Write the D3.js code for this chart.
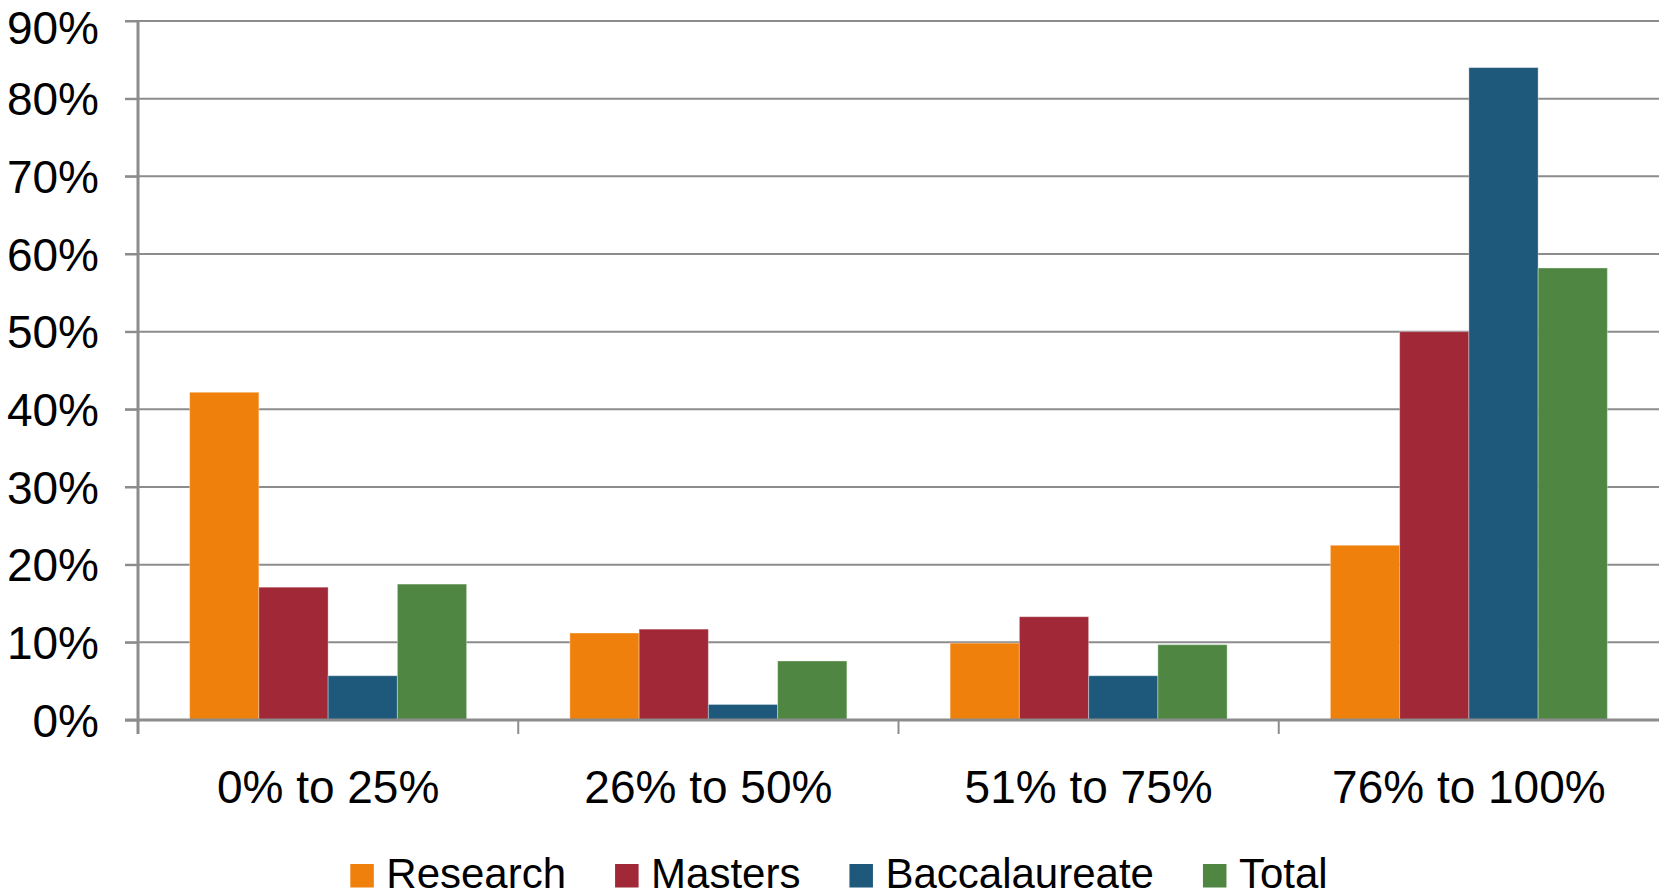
<!DOCTYPE html>
<html>
<head>
<meta charset="utf-8">
<script src="https://cdn.jsdelivr.net/npm/d3@7"></script>
<style>
  html, body { margin: 0; padding: 0; background: #fff; }
  svg { display: block; }
  text { font-family: "Liberation Sans", Arial, sans-serif; fill: #000; }
</style>
</head>
<body>
<svg id="chart" width="1659" height="896"></svg>
<script>
const categories = ["0% to 25%", "26% to 50%", "51% to 75%", "76% to 100%"];
const seriesNames = ["Research", "Masters", "Baccalaureate", "Total"];
const research = [42.2, 11.2, 9.9, 22.5];
const masters = [17.1, 11.7, 13.3, 50.0];
const baccalaureate = [5.7, 2.0, 5.7, 84.0];
const total = [17.5, 7.6, 9.7, 58.2];
const yTicks = [0, 10, 20, 30, 40, 50, 60, 70, 80, 90];
const colors = ["#EF800B", "#A02837", "#1E597C", "#4F8742"];

(function () {
const seriesValues = [research, masters, baccalaureate, total];
const data = categories.map((c, i) => ({
  category: c,
  values: seriesNames.map((s, j) => ({ series: s, value: seriesValues[j][i] }))
}));

const svg = d3.select("#chart");
const mLeft = 138, mRight = 1659, mTop = 21, mBottom = 720;

const x0 = d3.scaleBand().domain(categories).range([mLeft, mRight]).paddingInner(0).paddingOuter(0);
const inner = 277 / 380.25;
const x1 = d3.scaleBand().domain(seriesNames)
  .range([(x0.bandwidth() * (1 - inner)) / 2, x0.bandwidth() * (1 + inner) / 2]).padding(0);
const y = d3.scaleLinear().domain([0, 90]).range([mBottom, mTop]);

const gridColor = "#8C8C8C";

// gridlines
svg.append("g").selectAll("line").data(yTicks.filter(d => d > 0)).join("line")
  .attr("x1", 125).attr("x2", mRight)
  .attr("y1", d => y(d)).attr("y2", d => y(d))
  .attr("stroke", gridColor).attr("stroke-width", 2);

// bars
const groups = svg.append("g").selectAll("g").data(data).join("g")
  .attr("transform", d => `translate(${x0(d.category)},0)`);
groups.selectAll("rect").data(d => d.values).join("rect")
  .attr("x", d => x1(d.series))
  .attr("width", x1.bandwidth())
  .attr("y", d => y(d.value))
  .attr("height", d => y(0) - y(d.value))
  .attr("fill", (d, i) => colors[i])
  .attr("stroke", "rgba(255,255,255,0.35)")
  .attr("stroke-width", 1);

// y axis
const yAxis = d3.axisLeft(y).tickValues(yTicks).tickSize(13).tickFormat(d => d + "%");
const gy = svg.append("g").attr("transform", `translate(${mLeft},0)`).call(yAxis);
gy.select(".domain").remove();
gy.selectAll(".tick line").attr("stroke", gridColor).attr("stroke-width", 2);
gy.selectAll(".tick text")
  .attr("x", -39).attr("dy", null)
  .attr("y", d => Math.max(16, 43 - y(d)))
  .attr("font-size", 46).attr("font-family", "Liberation Sans, Arial, sans-serif")
  .attr("fill", "#000").attr("text-anchor", "end");
svg.append("line").attr("x1", mLeft).attr("x2", mLeft).attr("y1", mTop).attr("y2", 734)
  .attr("stroke", gridColor).attr("stroke-width", 3);

// x axis baseline and ticks
svg.append("line").attr("x1", 125).attr("x2", mRight).attr("y1", mBottom).attr("y2", mBottom)
  .attr("stroke", gridColor).attr("stroke-width", 3);
const tickXs = categories.map(c => x0(c)).slice(1);
svg.append("g").selectAll("line").data(tickXs).join("line")
  .attr("x1", d => d).attr("x2", d => d).attr("y1", mBottom).attr("y2", 734)
  .attr("stroke", gridColor).attr("stroke-width", 2);

svg.append("g").selectAll("text").data(categories).join("text")
  .attr("x", d => x0(d) + x0.bandwidth() / 2)
  .attr("y", 803)
  .attr("text-anchor", "middle")
  .attr("font-size", 46)
  .text(d => d);

// legend
const legend = svg.append("g");
const items = legend.selectAll("g").data(seriesNames).join("g");
items.append("rect").attr("width", 23.5).attr("height", 23.5).attr("y", 864)
  .attr("fill", (d, i) => colors[i]);
items.append("text").attr("x", 36).attr("y", 888).attr("font-size", 42).text(d => d);
const widths = [];
items.each(function () { widths.push(d3.select(this).select("text").node().getComputedTextLength()); });
const gap = 49;
const itemW = widths.map(w => 36 + w);
const totalW = d3.sum(itemW) + gap * (itemW.length - 1);
let cx = 839 - totalW / 2;
items.attr("transform", (d, i) => {
  const t = `translate(${cx},0)`;
  cx += itemW[i] + gap;
  return t;
});
})();
</script>
</body>
</html>
